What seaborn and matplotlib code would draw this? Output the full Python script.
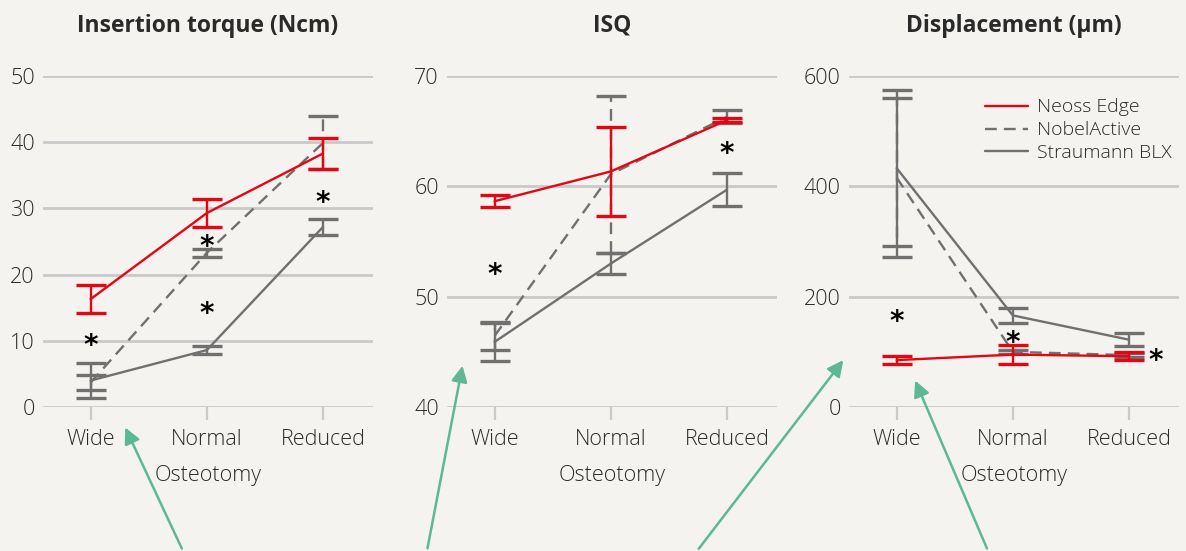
import numpy as np
import pandas as pd
import matplotlib.pyplot as plt
import seaborn as sns

# Categories and series
osteotomy = ["Wide", "Normal", "Reduced"]
implants = ["Neoss Edge", "NobelActive", "Straumann BLX"]

# Insertion torque (Ncm): means and error half-widths
torque_mean = {"Neoss Edge": [16.3, 29.3, 38.3],
               "NobelActive": [3.7, 23.3, 39.9],
               "Straumann BLX": [4.0, 8.6, 27.2]}
torque_err = {"Neoss Edge": [2.1, 2.1, 2.4],
              "NobelActive": [1.2, 0.6, 4.0],
              "Straumann BLX": [2.6, 0.55, 1.2]}
torque_star_x = [0, 1, 1, 2]
torque_star_y = [10.3, 25.2, 15.2, 31.9]

# ISQ
isq_mean = {"Neoss Edge": [58.65, 61.35, 66.0],
            "NobelActive": [46.45, 61.1, 66.3],
            "Straumann BLX": [45.9, 53.0, 59.7]}
isq_err = {"Neoss Edge": [0.55, 4.05, 0.15],
           "NobelActive": [1.25, 7.1, 0.6],
           "Straumann BLX": [1.7, 0.95, 1.5]}
isq_star_x = [0, 2]
isq_star_y = [52.6, 63.6]

# Displacement (um)
disp_mean = {"Neoss Edge": [85, 95, 92],
             "NobelActive": [416, 100, 94],
             "Straumann BLX": [433, 166, 122]}
disp_err = {"Neoss Edge": [6.6, 17, 7.5],
            "NobelActive": [145, 4, 3],
            "Straumann BLX": [141, 14, 12]}
disp_star_x = [0, 1, 2.23]
disp_star_y = [167, 130, 97]

colors = {"Neoss Edge": "#e30613", "NobelActive": "#707070", "Straumann BLX": "#707070"}
dashes = {"Neoss Edge": "-", "NobelActive": (0, (5, 3)), "Straumann BLX": "-"}
order = ["Straumann BLX", "NobelActive", "Neoss Edge"]  # red drawn on top

bg = "#f4f3ef"
txt = "#2a2a2a"
sns.set_style("whitegrid", {"axes.facecolor": bg, "figure.facecolor": bg,
                            "grid.color": "#c9c9c9", "axes.edgecolor": bg})
plt.rcParams["font.family"] = ["Open Sans", "DejaVu Sans"]
plt.rcParams["text.color"] = txt
plt.rcParams["axes.labelcolor"] = txt
plt.rcParams["xtick.color"] = txt
plt.rcParams["ytick.color"] = txt

fig = plt.figure(figsize=(11.86, 5.51), dpi=100)
lefts = [43, 447, 849]
axes = [fig.add_axes([l / 1186, 144 / 551, 330 / 1186, 331 / 551]) for l in lefts]

panels = [("Insertion torque (Ncm)", torque_mean, torque_err, (0, 50), [0, 10, 20, 30, 40, 50],
           torque_star_x, torque_star_y),
          ("ISQ", isq_mean, isq_err, (40, 70), [40, 50, 60, 70], isq_star_x, isq_star_y),
          ("Displacement (\u00b5m)", disp_mean, disp_err, (0, 600), [0, 200, 400, 600],
           disp_star_x, disp_star_y)]

for ax, (title, means, errs, ylim, yticks, sx, sy) in zip(axes, panels):
    for name in order:
        df = pd.DataFrame({"Osteotomy": osteotomy, "value": means[name]})
        z = 4 if name == "Neoss Edge" else 3
        sns.lineplot(data=df, x="Osteotomy", y="value", ax=ax, color=colors[name],
                     linestyle=dashes[name], lw=1.7, label=name, zorder=z, legend=False)
        eb = ax.errorbar(range(3), means[name], yerr=errs[name], fmt="none",
                         ecolor=colors[name], elinewidth=1.7, capsize=10.5,
                         capthick=2.4, zorder=z)
        if name == "NobelActive":
            eb[2][0].set_linestyle((0, (5, 3)))
    for x, y in zip(sx, sy):
        ax.annotate("*", (x, y), xytext=(0, -11), textcoords="offset points",
                    ha="center", va="baseline", fontsize=20, fontweight="bold",
                    color="black", family="DejaVu Sans")
    ax.set_ylim(*ylim)
    ax.set_yticks(yticks)
    ax.set_xlim(-0.41, 2.43)
    ax.set_xticks(range(3))
    ax.set_xticklabels(osteotomy)
    ax.grid(axis="x", visible=False)
    ax.grid(axis="y", lw=2)
    ax.tick_params(axis="x", bottom=True, length=9, width=1.6, color="#c9c9c9",
                   labelsize=15.5, pad=7)
    ax.tick_params(axis="y", left=False, length=0, labelsize=15.5, pad=6)
    for lab in ax.get_xticklabels() + ax.get_yticklabels():
        lab.set_fontweight("light")
    ax.set_ylabel("")
    ax.set_xlabel("Osteotomy", fontsize=15.5, fontweight="light", labelpad=11)
    ax.set_title(title, fontsize=16.5, fontweight="bold", pad=32)
    sns.despine(ax=ax, left=True, bottom=True)

handles, labels = axes[2].get_legend_handles_labels()
hmap = dict(zip(labels, handles))
leg = axes[2].legend([hmap[n] for n in implants], implants, loc="upper right",
                     frameon=False, fontsize=14, handlelength=2.2,
                     bbox_to_anchor=(1.03, 0.985), labelspacing=0.25, handletextpad=0.45)
for t in leg.get_texts():
    t.set_fontweight("light")

# green pointer arrows
arrow_color = "#5cb896"
arrows = [((0.1543, 0.0), (0.1046, 0.2287)),
          ((0.3600, 0.0), (0.3904, 0.3412)),
          ((0.5877, 0.0), (0.7125, 0.3503)),
          ((0.8331, 0.0), (0.7707, 0.3140))]
for tail, head in arrows:
    fig.add_artist(plt.matplotlib.patches.FancyArrowPatch(
        tail, head, transform=fig.transFigure, arrowstyle="-|>", mutation_scale=24,
        color=arrow_color, lw=1.8))

fig.savefig("out.png", dpi=100, facecolor=bg)
